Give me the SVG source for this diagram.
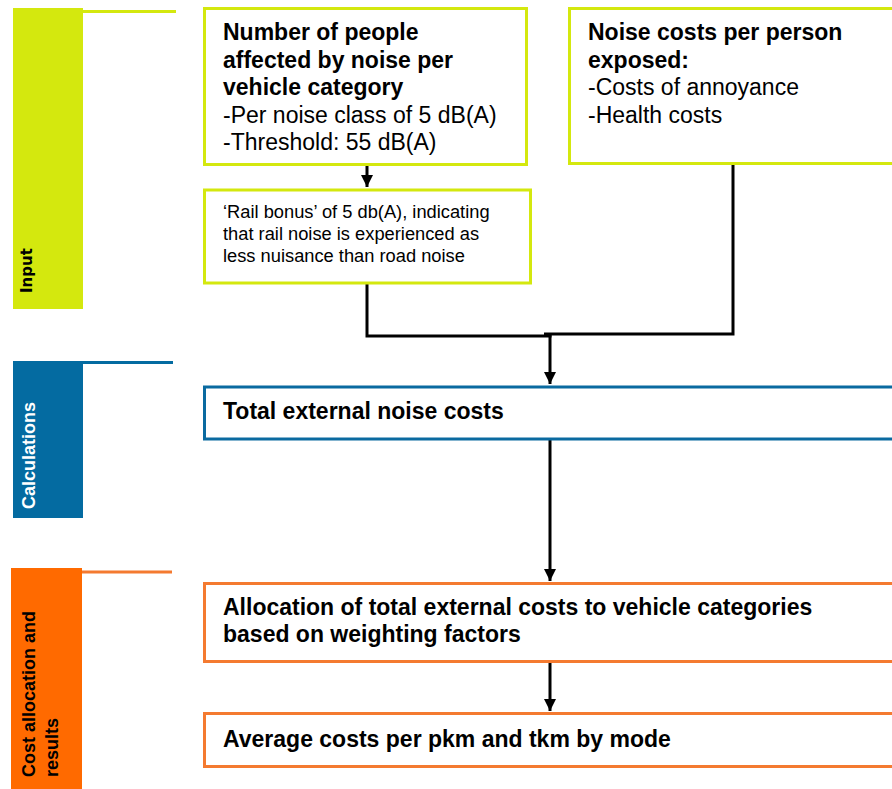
<svg xmlns="http://www.w3.org/2000/svg" width="892" height="789" viewBox="0 0 892 789">
<style>
  .t { font-family: "Liberation Sans", Arial, sans-serif; fill: #000; }
  .b { font-weight: bold; }
  .big { font-size: 23px; }
  .sm { font-size: 18.3px; }
  .side { font-family: "Liberation Sans", Arial, sans-serif; font-size: 18px; font-weight: bold; }
  .lime { fill: #fff; stroke: #D4E80E; stroke-width: 3; }
  .blue { fill: #fff; stroke: #0A6AA0; stroke-width: 3; }
  .orng { fill: #fff; stroke: #F47A30; stroke-width: 3; }
  .conn { fill: none; stroke: #000; stroke-width: 3; }
</style>
<defs>
  <marker id="arr" markerUnits="userSpaceOnUse" markerWidth="14" markerHeight="14" refX="12" refY="6" orient="auto">
    <path d="M0,0 L12,6 L0,12 z" fill="#000"/>
  </marker>
</defs>
<rect width="892" height="789" fill="#fff"/>

<g id="sidebar-input">
  <rect x="13" y="8" width="70" height="301" fill="#D4E80E"/>
  <line x1="83" y1="11.5" x2="176" y2="11.5" stroke="#D4E80E" stroke-width="3"/>
  <text transform="translate(32,293) rotate(-90)" style="font-family:'DejaVu Sans',sans-serif;font-size:15px;font-weight:bold" fill="#000">Input</text>
</g>
<g id="sidebar-calc">
  <rect x="13" y="361" width="70" height="157" fill="#046BA1"/>
  <line x1="83" y1="362.5" x2="173" y2="362.5" stroke="#046BA1" stroke-width="3"/>
  <text class="side" transform="translate(35,509) rotate(-90)" fill="#fff">Calculations</text>
</g>
<g id="sidebar-cost">
  <rect x="11" y="568" width="71" height="221" fill="#FF6A00"/>
  <line x1="82" y1="572" x2="172" y2="572" stroke="#F47A30" stroke-width="3"/>
  <text class="side" transform="translate(35,777) rotate(-90)" fill="#000">Cost allocation and</text>
  <text class="side" transform="translate(58,777) rotate(-90)" fill="#000">results</text>
</g>

<g id="connectors">
  <path class="conn" d="M367,165 V187" marker-end="url(#arr)"/>
  <path class="conn" d="M367,283 V336 H551.5"/>
  <path class="conn" d="M733,165 V334 H544"/>
  <path class="conn" d="M550,335 V384" marker-end="url(#arr)"/>
  <path class="conn" d="M550,440 V581" marker-end="url(#arr)"/>
  <path class="conn" d="M550,662 V711" marker-end="url(#arr)"/>
</g>

<g id="node-people">
  <rect class="lime" x="204.5" y="8.5" width="322" height="156"/>
  <text class="t b big" x="223" y="40">Number of people</text>
  <text class="t b big" x="223" y="67.5">affected by noise per</text>
  <text class="t b big" x="223" y="95">vehicle category</text>
  <text class="t big" x="223" y="122.5">-Per noise class of 5 dB(A)</text>
  <text class="t big" x="223" y="150">-Threshold: 55 dB(A)</text>
</g>
<g id="node-costs-person">
  <rect class="lime" x="569.5" y="8.5" width="330" height="155"/>
  <text class="t b big" x="588" y="40">Noise costs per person</text>
  <text class="t b big" x="588" y="67.5">exposed:</text>
  <text class="t big" x="588" y="95">-Costs of annoyance</text>
  <text class="t big" x="588" y="122.5">-Health costs</text>
</g>
<g id="node-rail">
  <rect class="lime" x="204.5" y="190" width="326" height="93"/>
  <text class="t sm" x="223" y="218">‘Rail bonus’ of 5 db(A), indicating</text>
  <text class="t sm" x="223" y="240">that rail noise is experienced as</text>
  <text class="t sm" x="223" y="262">less nuisance than road noise</text>
</g>
<g id="node-total">
  <rect class="blue" x="204.5" y="387" width="700" height="52"/>
  <text class="t b big" x="223" y="419">Total external noise costs</text>
</g>
<g id="node-allocation">
  <rect class="orng" x="204.5" y="583.5" width="700" height="78"/>
  <text class="t b big" x="223" y="615">Allocation of total external costs to vehicle categories</text>
  <text class="t b big" x="223" y="642">based on weighting factors</text>
</g>
<g id="node-average">
  <rect class="orng" x="204.5" y="713.5" width="700" height="53"/>
  <text class="t b big" x="223" y="747">Average costs per pkm and tkm by mode</text>
</g>
</svg>
